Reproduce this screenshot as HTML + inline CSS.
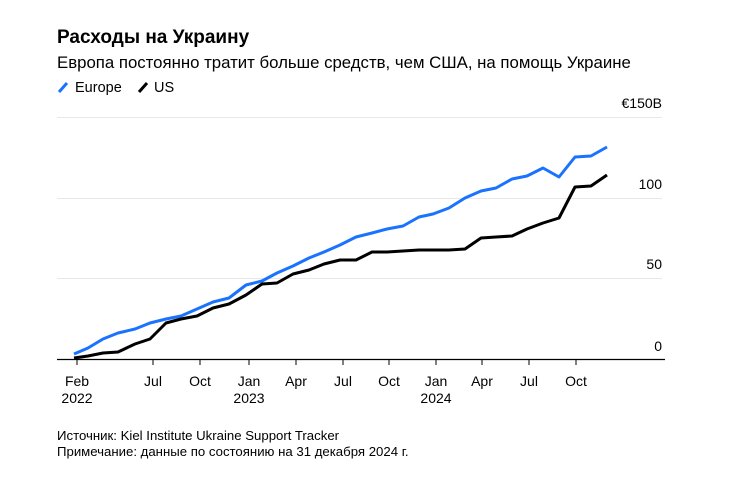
<!DOCTYPE html><html><head><meta charset="utf-8"><style>
body{margin:0;background:#fff;width:730px;height:478px;overflow:hidden;font-family:"Liberation Sans",sans-serif;}
</style></head><body>
<svg width="730" height="478" xmlns="http://www.w3.org/2000/svg" font-family="Liberation Sans, sans-serif">
<text x="57" y="43" font-size="19" font-weight="bold" fill="#000">Расходы на Украину</text>
<text x="57" y="68" font-size="16.8" fill="#000">Европа постоянно тратит больше средств, чем США, на помощь Украине</text>
<line x1="59" y1="92" x2="67" y2="83" stroke="#1a73ff" stroke-width="3"/>
<text x="75" y="92" font-size="14.5" fill="#000">Europe</text>
<line x1="139" y1="92" x2="147" y2="83" stroke="#000" stroke-width="3"/>
<text x="154" y="92" font-size="14.5" fill="#000">US</text>
<g stroke="#e8e8e8" stroke-width="1">
<line x1="57" y1="117.5" x2="662" y2="117.5"/><line x1="57" y1="198.5" x2="662" y2="198.5"/><line x1="57" y1="278.5" x2="662" y2="278.5"/></g>
<g font-size="14" fill="#000" text-anchor="end">
<text x="662" y="108">€150B</text><text x="662" y="189">100</text><text x="662" y="269">50</text><text x="662" y="351">0</text></g>
<line x1="57" y1="359.5" x2="665" y2="359.5" stroke="#000" stroke-width="1.2"/>
<g stroke="#000" stroke-width="1">
<line x1="77" y1="359" x2="77" y2="365"/><line x1="153" y1="359" x2="153" y2="365"/><line x1="200" y1="359" x2="200" y2="365"/><line x1="249" y1="359" x2="249" y2="365"/><line x1="296" y1="359" x2="296" y2="365"/><line x1="343" y1="359" x2="343" y2="365"/><line x1="389" y1="359" x2="389" y2="365"/><line x1="436" y1="359" x2="436" y2="365"/><line x1="482" y1="359" x2="482" y2="365"/><line x1="529" y1="359" x2="529" y2="365"/><line x1="576" y1="359" x2="576" y2="365"/></g>
<g font-size="14" fill="#000" text-anchor="middle">
<text x="77" y="386">Feb</text><text x="77" y="403">2022</text><text x="153" y="386">Jul</text><text x="200" y="386">Oct</text><text x="249" y="386">Jan</text><text x="249" y="403">2023</text><text x="296" y="386">Apr</text><text x="343" y="386">Jul</text><text x="389" y="386">Oct</text><text x="436" y="386">Jan</text><text x="436" y="403">2024</text><text x="482" y="386">Apr</text><text x="529" y="386">Jul</text><text x="576" y="386">Oct</text></g>
<polyline fill="none" stroke="#1a73ff" stroke-width="3" stroke-linejoin="round" points="74,354 88,348 103,339 118,333 135,329 150,323 166,319 181,316 197,309 213,302 229,298 246,285 262,281 277,273 293,266 309,258 324,252 340,245 356,237 372,233 387,229 403,226 419,217 433,214 449,208 465,198 481,191 496,188 512,179 527,176 543,168 559,177 575,157 591,156 607,147"/>
<polyline fill="none" stroke="#000" stroke-width="3" stroke-linejoin="round" points="74,358 88,356 103,353 118,352 135,344 150,339 166,323 181,319 197,316 213,308 229,304 246,295 262,284 277,283 293,274 309,270 324,264 340,260 356,260 372,252 387,252 403,251 419,250 433,250 449,250 465,249 481,238 496,237 512,236 527,229 543,223 559,218 575,187 591,186 607,175"/>
<text x="57" y="440" font-size="13.2" fill="#000">Источник: Kiel Institute Ukraine Support Tracker</text>
<text x="57" y="456" font-size="13.2" fill="#000">Примечание: данные по состоянию на 31 декабря 2024 г.</text>
</svg></body></html>
